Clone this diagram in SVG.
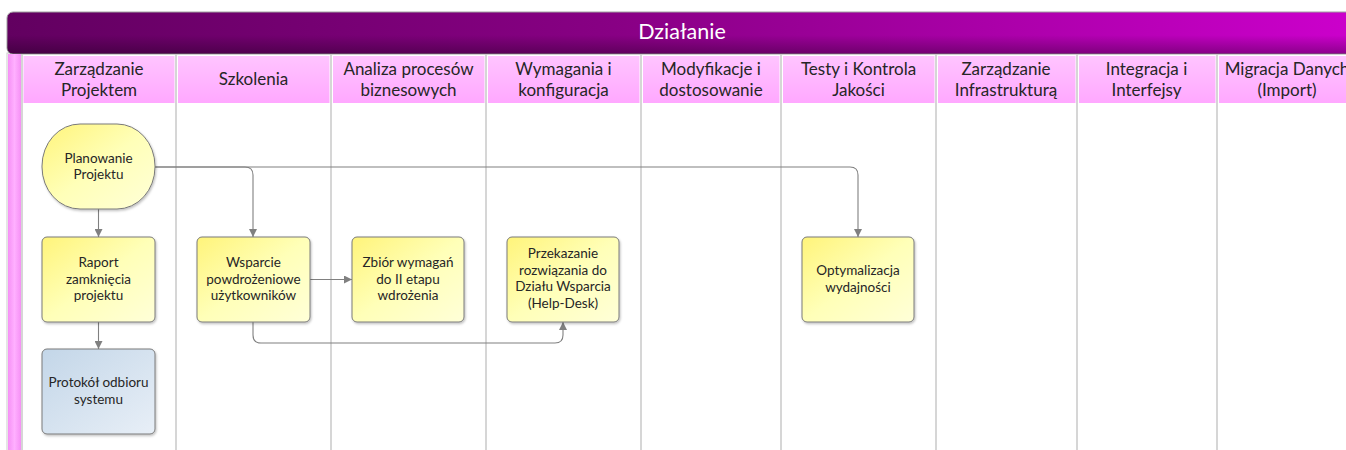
<svg xmlns="http://www.w3.org/2000/svg" width="1346" height="450" viewBox="0 0 1346 450">
<defs>
<linearGradient id="gTitle" x1="0" y1="0" x2="1" y2="0">
<stop offset="0" stop-color="#620060"/>
<stop offset="0.45" stop-color="#880084"/>
<stop offset="1" stop-color="#cc00cc"/>
</linearGradient>
<linearGradient id="gShade" x1="0" y1="0" x2="0" y2="1">
<stop offset="0" stop-color="#000" stop-opacity="0"/>
<stop offset="0.55" stop-color="#000" stop-opacity="0"/>
<stop offset="1" stop-color="#000" stop-opacity="0.3"/>
</linearGradient>
<linearGradient id="gHead" x1="0" y1="0" x2="0" y2="1">
<stop offset="0" stop-color="#ffc4ff"/>
<stop offset="1" stop-color="#ffa8ff"/>
</linearGradient>
<linearGradient id="gStrip" x1="0" y1="0" x2="1" y2="0">
<stop offset="0" stop-color="#f590f5"/>
<stop offset="0.5" stop-color="#ffb0ff"/>
<stop offset="1" stop-color="#f590f5"/>
</linearGradient>
<linearGradient id="gYel" x1="0" y1="0" x2="1" y2="1">
<stop offset="0" stop-color="#fff47a"/>
<stop offset="0.5" stop-color="#ffffb8"/>
<stop offset="1" stop-color="#ffffd8"/>
</linearGradient>
<linearGradient id="gBlue" x1="0" y1="0" x2="1" y2="1">
<stop offset="0" stop-color="#c3d6e8"/>
<stop offset="1" stop-color="#e8eff7"/>
</linearGradient>
<marker id="arr" viewBox="0 0 10 10" refX="10" refY="5" markerWidth="8" markerHeight="8" markerUnits="userSpaceOnUse" orient="auto">
<path d="M0,0 L10,5 L0,10 Z" fill="#808080"/>
</marker>
<filter id="sh" x="-10%" y="-10%" width="125%" height="125%">
<feDropShadow dx="1" dy="1.5" stdDeviation="1" flood-color="#000" flood-opacity="0.25"/>
</filter>
</defs>
<style>
.hd{font-family:Lato,"Noto Sans",sans-serif;font-size:17px;fill:#262626;text-anchor:middle}
.nt{font-family:Lato,"Noto Sans",sans-serif;font-size:13.5px;fill:#262626;text-anchor:middle}
.sep{stroke:#c8c8c8;stroke-width:1.5;fill:none}
.cell{fill:url(#gHead)}
.yel{fill:url(#gYel);stroke:#7a7a7a;stroke-width:1;filter:url(#sh)}
.blu{fill:url(#gBlue);stroke:#7a7a7a;stroke-width:1;filter:url(#sh)}
.con{stroke:#808080;stroke-width:1.1;fill:none;marker-end:url(#arr)}
</style>
<rect width="1346" height="450" fill="#ffffff"/>
<g id="pool">
<rect x="7" y="53" width="1350" height="400" fill="#ffffff" stroke="#cccccc"/>
<rect x="7" y="12" width="1350" height="42" rx="6" fill="url(#gTitle)" stroke="#a0a0a0" stroke-width="1"/>
<rect x="7" y="12" width="1350" height="42" rx="6" fill="url(#gShade)"/>
<text x="682" y="39" font-family="Lato,'Noto Sans',sans-serif" font-size="21.5" fill="#ffffff" text-anchor="middle">Działanie</text>
<rect x="8" y="54" width="13" height="396" fill="url(#gStrip)"/>
</g>
<g id="lanes">
<line class="sep" x1="22" y1="54" x2="22" y2="450"/>
<line class="sep" x1="176" y1="54" x2="176" y2="450"/>
<line class="sep" x1="331" y1="54" x2="331" y2="450"/>
<line class="sep" x1="486" y1="54" x2="486" y2="450"/>
<line class="sep" x1="641" y1="54" x2="641" y2="450"/>
<line class="sep" x1="781" y1="54" x2="781" y2="450"/>
<line class="sep" x1="936" y1="54" x2="936" y2="450"/>
<line class="sep" x1="1077" y1="54" x2="1077" y2="450"/>
<line class="sep" x1="1217" y1="54" x2="1217" y2="450"/>
<rect class="cell" x="23.5" y="56" width="151" height="47"/>
<rect class="cell" x="178" y="56" width="151.5" height="47"/>
<rect class="cell" x="333" y="56" width="151.5" height="47"/>
<rect class="cell" x="488" y="56" width="151.5" height="47"/>
<rect class="cell" x="643" y="56" width="136.5" height="47"/>
<rect class="cell" x="783" y="56" width="151.5" height="47"/>
<rect class="cell" x="938" y="56" width="137.5" height="47"/>
<rect class="cell" x="1079" y="56" width="136.5" height="47"/>
<rect class="cell" x="1219" y="56" width="140" height="47"/>
<text class="hd" x="99" y="75">Zarządzanie</text>
<text class="hd" x="99" y="96">Projektem</text>
<text class="hd" x="253.5" y="85">Szkolenia</text>
<text class="hd" x="408.5" y="75">Analiza procesów</text>
<text class="hd" x="408.5" y="96">biznesowych</text>
<text class="hd" x="563.5" y="75">Wymagania i</text>
<text class="hd" x="563.5" y="96">konfiguracja</text>
<text class="hd" x="711" y="75">Modyfikacje i</text>
<text class="hd" x="711" y="96">dostosowanie</text>
<text class="hd" x="858.5" y="75">Testy i Kontrola</text>
<text class="hd" x="858.5" y="96">Jakości</text>
<text class="hd" x="1006" y="75">Zarządzanie</text>
<text class="hd" x="1006" y="96">Infrastrukturą</text>
<text class="hd" x="1146.5" y="75">Integracja i</text>
<text class="hd" x="1146.5" y="96">Interfejsy</text>
<text class="hd" x="1287" y="75">Migracja Danych</text>
<text class="hd" x="1287" y="96">(Import)</text>
</g>
<g id="connectors">
<path class="con" d="M98.5,209 L98.5,237"/>
<path class="con" d="M98.5,322 L98.5,349"/>
<path class="con" d="M155,167 L245,167 Q253,167 253,175 L253,237"/>
<path class="con" d="M155,167 L850,167 Q858,167 858,175 L858,237"/>
<path class="con" d="M310,279.5 L352,279.5"/>
<path class="con" d="M253,322 L253,335 Q253,343 261,343 L555,343 Q563,343 563,335 L563,322"/>
</g>
<g id="n-planowanie">
<rect class="yel" x="42" y="124" width="113" height="85" rx="38" ry="42"/>
<text class="nt" x="98.5" y="163">Planowanie</text>
<text class="nt" x="98.5" y="179">Projektu</text>
</g>
<g id="n-raport">
<rect class="yel" x="42" y="237" width="113" height="85" rx="5"/>
<text class="nt" x="98.5" y="267">Raport</text>
<text class="nt" x="98.5" y="284">zamknięcia</text>
<text class="nt" x="98.5" y="300">projektu</text>
</g>
<g id="n-protokol">
<rect class="blu" x="42" y="349" width="113" height="85" rx="5"/>
<text class="nt" x="98.5" y="387">Protokół odbioru</text>
<text class="nt" x="98.5" y="404">systemu</text>
</g>
<g id="n-wsparcie">
<rect class="yel" x="197" y="237" width="113" height="85" rx="5"/>
<text class="nt" x="253.5" y="267">Wsparcie</text>
<text class="nt" x="253.5" y="284">powdrożeniowe</text>
<text class="nt" x="253.5" y="300">użytkowników</text>
</g>
<g id="n-zbior">
<rect class="yel" x="352" y="237" width="112" height="85" rx="5"/>
<text class="nt" x="408" y="267">Zbiór wymagań</text>
<text class="nt" x="408" y="284">do II etapu</text>
<text class="nt" x="408" y="300">wdrożenia</text>
</g>
<g id="n-przekazanie">
<rect class="yel" x="507" y="237" width="112" height="85" rx="5"/>
<text class="nt" x="563" y="258">Przekazanie</text>
<text class="nt" x="563" y="275">rozwiązania do</text>
<text class="nt" x="563" y="291">Działu Wsparcia</text>
<text class="nt" x="563" y="308">(Help-Desk)</text>
</g>
<g id="n-optymalizacja">
<rect class="yel" x="802" y="237" width="112" height="85" rx="5"/>
<text class="nt" x="858" y="275">Optymalizacja</text>
<text class="nt" x="858" y="292">wydajności</text>
</g>
</svg>
